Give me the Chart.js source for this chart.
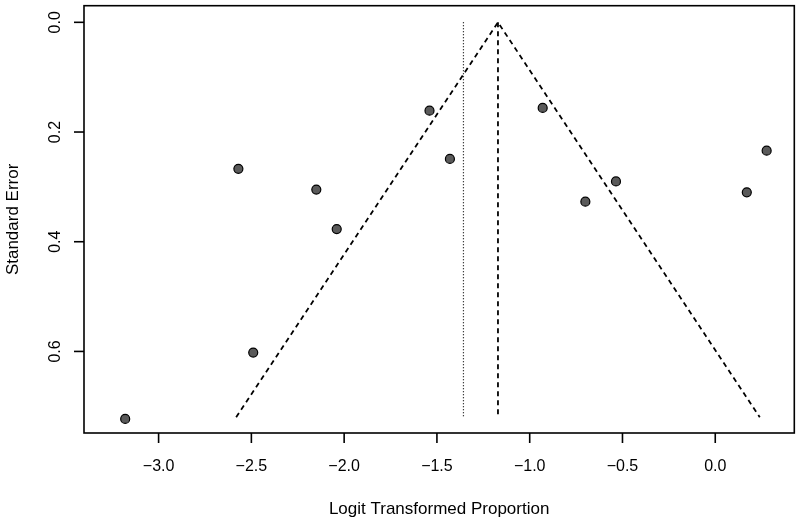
<!DOCTYPE html>
<html>
<head>
<meta charset="utf-8">
<script src="https://cdn.jsdelivr.net/npm/chart.js@4"></script>
<style>
  body { margin: 0; background: #fff; }
  #wrap { width: 800px; height: 523px; }
</style>
</head>
<body>
<div id="wrap"><canvas id="funnel" width="800" height="523"></canvas></div>
<script>
// study estimates (logit proportion) and their standard errors
const estimates = [-3.18, -2.57, -2.49, -2.15, -2.04, -1.54, -1.43, -0.93, -0.70, -0.535, 0.17, 0.277];
const stdErrors = [0.723, 0.267, 0.602, 0.305, 0.377, 0.161, 0.249, 0.156, 0.327, 0.290, 0.310, 0.234];

// funnel outline and reference lines
const funnelX = [-2.582, -1.171, 0.240];
const funnelSE = [0.72, 0, 0.72];
const pooledEstimate = -1.171;
const nullLine = -1.357;
const seRange = [0, 0.72];

// axis ticks
const xTicks = [-3.0, -2.5, -2.0, -1.5, -1.0, -0.5, 0.0];
const yTicks = [0.0, 0.2, 0.4, 0.6];

const fontFamily = '"Liberation Sans", Arial, Helvetica, sans-serif';

function fmt(v) {
    return v.toFixed(1).replace('-', '\u2212');
}

const rAxes = {
    id: 'rAxes',
    afterDraw(chart) {
        const ctx = chart.ctx;
        const a = chart.chartArea;
        const xs = chart.scales.x;
        const ys = chart.scales.y;
        ctx.save();
        ctx.strokeStyle = '#000';
        ctx.fillStyle = '#000';
        ctx.lineWidth = 1.6;
        ctx.strokeRect(a.left, a.top, a.right - a.left, a.bottom - a.top);

        // x axis
        ctx.font = '16px ' + fontFamily;
        ctx.textAlign = 'center';
        ctx.textBaseline = 'middle';
        xTicks.forEach(v => {
            const px = xs.getPixelForValue(v);
            ctx.beginPath();
            ctx.moveTo(px, a.bottom);
            ctx.lineTo(px, a.bottom + 10);
            ctx.stroke();
            ctx.fillText(fmt(v), px, 467);
        });

        // y axis, labels parallel to the axis
        yTicks.forEach(v => {
            const py = ys.getPixelForValue(v);
            ctx.beginPath();
            ctx.moveTo(a.left - 10, py);
            ctx.lineTo(a.left, py);
            ctx.stroke();
            ctx.save();
            ctx.translate(56, py);
            ctx.rotate(-Math.PI / 2);
            ctx.fillText(fmt(v), 0, 0);
            ctx.restore();
        });

        // titles
        ctx.font = '17px ' + fontFamily;
        ctx.fillText('Logit Transformed Proportion', (a.left + a.right) / 2, 509);
        ctx.save();
        ctx.translate(13, (a.top + a.bottom) / 2);
        ctx.rotate(-Math.PI / 2);
        ctx.fillText('Standard Error', 0, 0);
        ctx.restore();
        ctx.restore();
    }
};

new Chart(document.getElementById('funnel'), {
    type: 'scatter',
    data: {
        datasets: [
            {
                label: 'funnel',
                data: funnelX.map((x, i) => ({ x: x, y: funnelSE[i] })),
                showLine: true,
                borderColor: '#000',
                borderWidth: 1.8,
                borderDash: [5, 4],
                pointRadius: 0,
                fill: false
            },
            {
                label: 'pooled',
                data: seRange.map(s => ({ x: pooledEstimate, y: s })),
                showLine: true,
                borderColor: '#000',
                borderWidth: 1.8,
                borderDash: [5, 4],
                pointRadius: 0
            },
            {
                label: 'null',
                data: seRange.map(s => ({ x: nullLine, y: s })),
                showLine: true,
                borderColor: '#000',
                borderWidth: 1.2,
                borderDash: [1, 2],
                pointRadius: 0
            },
            {
                label: 'studies',
                data: estimates.map((x, i) => ({ x: x, y: stdErrors[i] })),
                pointRadius: 4.5,
                pointBackgroundColor: '#5a5a5a',
                pointBorderColor: '#000',
                pointBorderWidth: 1.2,
                showLine: false
            }
        ]
    },
    options: {
        responsive: false,
        animation: false,
        devicePixelRatio: 1,
        layout: { padding: { left: 84, right: 4, top: 3, bottom: 90 } },
        plugins: {
            legend: { display: false },
            tooltip: { enabled: false }
        },
        scales: {
            x: { type: 'linear', display: false, min: -3.402, max: 0.426 },
            y: { type: 'linear', display: false, reverse: true, min: -0.0303, max: 0.7487 }
        }
    },
    plugins: [rAxes]
});
</script>
</body>
</html>
